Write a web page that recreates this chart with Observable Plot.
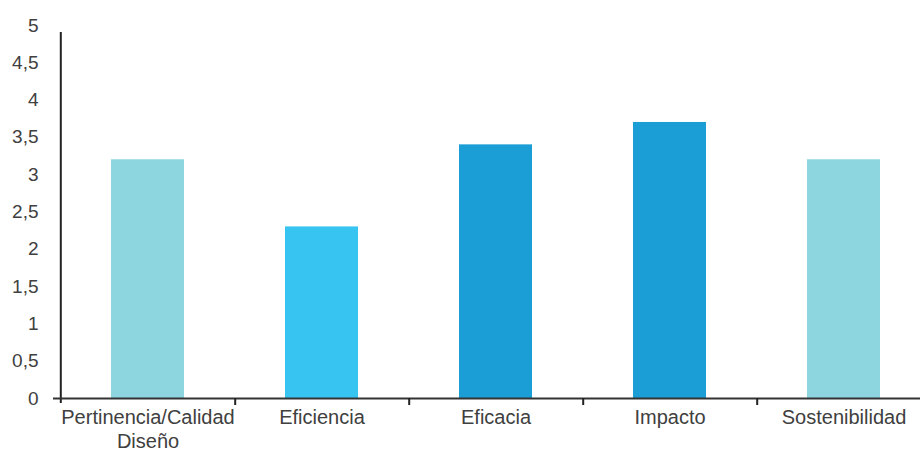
<!DOCTYPE html>
<html>
<head>
<meta charset="utf-8">
<script src="https://cdn.jsdelivr.net/npm/d3@7"></script>
<script src="https://cdn.jsdelivr.net/npm/@observablehq/plot@0.6"></script>
<style>
  html, body { margin: 0; padding: 0; background: #fff; }
  #chart svg { display: block; }
</style>
</head>
<body>
<div id="chart"></div>
<script>
// Criterios de evaluación y puntuación media (escala 0–5)
const criterios = ["Pertinencia/Calidad\nDiseño", "Eficiencia", "Eficacia", "Impacto", "Sostenibilidad"];
const puntuaciones = [3.2, 2.3, 3.4, 3.7, 3.2];
const colores = ["#8dd5df", "#38c4f1", "#1b9dd5", "#1b9dd5", "#8dd5df"];
const ticksY = [0, 0.5, 1, 1.5, 2, 2.5, 3, 3.5, 4, 4.5, 5];

const datos = criterios.map((c, i) => ({criterio: c, valor: puntuaciones[i], color: colores[i]}));

const width = 920;
const xRange = [60, 932];
const step = (xRange[1] - xRange[0]) / criterios.length;
const coma = d3.format(",.1~f");
const fmt = v => coma(v).replace(".", ",");
const ink = "#404040";

const chart = Plot.plot({
  width,
  height: 452,
  marginTop: 25,
  marginBottom: 54,
  marginLeft: 60,
  marginRight: 0,
  style: {fontFamily: "'Liberation Sans', Arial, sans-serif", fontSize: "19px", color: ink},
  x: {domain: criterios, range: xRange, paddingInner: 0.58, paddingOuter: 0.29},
  y: {domain: [0, 5]},
  marks: [
    Plot.barY(datos, {x: "criterio", y: "valor", fill: "color"}),
    Plot.axisY({ticks: ticksY, tickSize: 0, tickPadding: 22, tickFormat: fmt, label: null, fontSize: 19, fill: ink}),
    Plot.axisX({tickSize: 0, tickPadding: 8, label: null, fontSize: 20, fill: ink, lineHeight: 1.22}),
    // eje vertical
    Plot.ruleX([criterios[0]], {y1: 0, y2: 5, dx: -step / 2, insetTop: 5, insetBottom: -7, stroke: "#222", strokeWidth: 2}),
    // eje horizontal
    Plot.ruleY([0], {insetLeft: -7, stroke: "#333", strokeWidth: 2}),
    // marcas entre categorías
    Plot.ruleX(criterios.slice(0, -1), {y1: 0, y2: 0, dx: step / 2, insetBottom: -7, stroke: "#222", strokeWidth: 2})
  ]
});

document.getElementById("chart").append(chart);
</script>
</body>
</html>
